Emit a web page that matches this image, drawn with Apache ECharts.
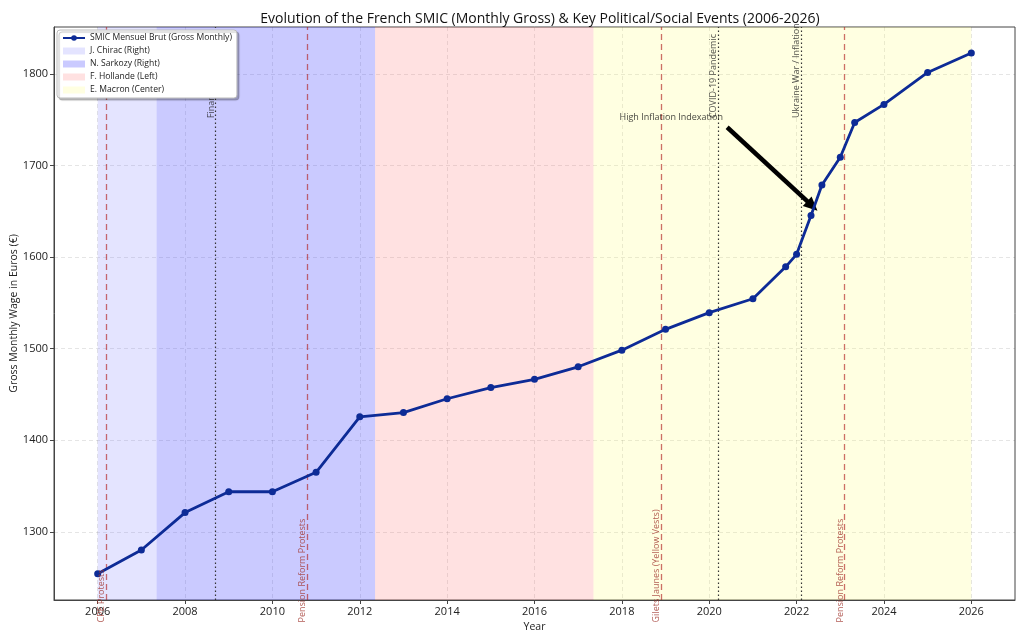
<!DOCTYPE html>
<html>
<head>
<meta charset="utf-8">
<script src="https://cdn.jsdelivr.net/npm/echarts@6/dist/echarts.min.js"></script>
<style>html,body{margin:0;padding:0;background:#fff}#c{width:1024px;height:640px}</style>
</head>
<body>
<div id="c"></div>
<script>
// SMIC data (year as decimal, monthly gross €)
const smicYears = [2006, 2007, 2008, 2009, 2010, 2011, 2012, 2013, 2014, 2015, 2016, 2017, 2018, 2019, 2020, 2021, 2021.75, 2022.0, 2022.33, 2022.58, 2023.0, 2023.33, 2024, 2025, 2026];
const smicValues = [1254.28, 1280.07, 1321.02, 1343.77, 1343.77, 1365.00, 1425.67, 1430.22, 1445.38, 1457.52, 1466.62, 1480.27, 1498.47, 1521.22, 1539.42, 1554.58, 1589.47, 1603.12, 1645.58, 1678.95, 1709.28, 1747.20, 1766.92, 1801.80, 1823.03];

// Presidencies
const presNames = ['J. Chirac (Right)', 'N. Sarkozy (Right)', 'F. Hollande (Left)', 'E. Macron (Center)'];
const presStart = [2006, 2007.35, 2012.35, 2017.35];
const presEnd = [2007.35, 2012.35, 2017.35, 2026];
const presColors = ['rgba(120,120,255,0.2)', 'rgba(60,60,255,0.27)', 'rgba(255,120,120,0.22)', 'rgba(255,255,120,0.22)'];

// Events
const eventNames = ['CPE Protests', 'Financial Crisis', 'Pension Reform Protests', 'Gilets Jaunes (Yellow Vests)', 'COVID-19 Pandemic', 'Ukraine War / Inflation', 'Pension Reform Protests'];
const eventYears = [2006.2, 2008.7, 2010.8, 2018.9, 2020.2, 2022.1, 2023.1];
const eventKinds = ['social', 'crisis', 'social', 'social', 'crisis', 'crisis', 'social'];

const xTicks = [2006, 2008, 2010, 2012, 2014, 2016, 2018, 2020, 2022, 2024, 2026];
const yTicks = [1300, 1400, 1500, 1600, 1700, 1800];

const annotationText = 'High Inflation Indexation';
const annotationPos = [2019.13, 1753];
const arrowFrom = [2020.41, 1742];
const arrowTo = [2022.36, 1656];

const FONT = 'Open Sans';
const socialColor = 'rgba(178,34,34,0.65)';
const socialText = '#a0362e';
const crisisColor = '#333';

const chart = echarts.init(document.getElementById('c'), null, {renderer: 'canvas'});

const smicData = smicYears.map((y, i) => [y, smicValues[i]]);

const bandSeries = presNames.map((n, i) => ({
  name: n,
  type: 'line',
  data: [],
  color: presColors[i],
  z: 1,
  markArea: {
    silent: true,
    itemStyle: {color: presColors[i]},
    data: [[{xAxis: presStart[i]}, {xAxis: presEnd[i]}]]
  }
}));

const eventLineSeries = {
  type: 'line',
  data: [],
  z: 3,
  silent: true,
  markLine: {
    silent: true,
    symbol: ['none', 'none'],
    label: {show: false},
    data: eventYears.map((x, i) => ({
      xAxis: x,
      lineStyle: eventKinds[i] === 'social'
        ? {color: socialColor, type: [6, 4], width: 1.3}
        : {color: crisisColor, type: [1.5, 2.5], width: 1.2}
    }))
  }
};

const eventLabelSeries = {
  type: 'scatter',
  data: eventYears.map((x, i) => ({
    value: [x, eventKinds[i] === 'social' ? 1201 : 1752],
    name: eventNames[i],
    label: {color: eventKinds[i] === 'social' ? socialText : '#222'}
  })),
  symbolSize: 0,
  clip: false,
  silent: true,
  z: 6,
  label: {
    show: true,
    formatter: p => p.name,
    rotate: 90,
    align: 'left',
    verticalAlign: 'bottom',
    position: [0, 0],
    offset: [0, 0],
    fontFamily: FONT,
    fontSize: 9
  }
};

const arrowSeries = {
  type: 'line',
  data: [],
  z: 7,
  silent: true,
  markLine: {
    silent: true,
    symbol: ['none', 'triangle'],
    symbolSize: [13, 14],
    label: {show: false},
    lineStyle: {color: '#000', type: 'solid', width: 4.5},
    data: [[{coord: arrowFrom}, {coord: arrowTo}]]
  }
};

const annotationSeries = {
  type: 'scatter',
  data: [{value: annotationPos, name: annotationText}],
  symbolSize: 0,
  clip: false,
  silent: true,
  z: 7,
  label: {
    show: true,
    formatter: p => p.name,
    position: [0, 0],
    align: 'center',
    verticalAlign: 'middle',
    fontFamily: FONT,
    fontSize: 9,
    color: '#111'
  }
};

const option = {
  animation: false,
  backgroundColor: '#fff',
  title: {
    text: 'Evolution of the French SMIC (Monthly Gross) & Key Political/Social Events (2006-2026)',
    left: 535,
    textAlign: 'center',
    top: 7,
    textStyle: {fontFamily: FONT, fontSize: 14, fontWeight: 'normal', color: '#111'}
  },
  legend: {
    left: 57,
    top: 30,
    z: 50,
    orient: 'vertical',
    backgroundColor: '#fff',
    borderColor: '#bbb',
    borderWidth: 1,
    borderRadius: 3,
    shadowColor: 'rgba(0,0,0,0.25)',
    shadowBlur: 1,
    shadowOffsetX: 2,
    shadowOffsetY: 2,
    padding: [3, 5, 3, 5],
    itemWidth: 22,
    itemHeight: 7,
    itemGap: 3,
    textStyle: {fontFamily: FONT, fontSize: 8.6, lineHeight: 10, color: '#222'},
    data: [
      {name: 'SMIC Mensuel Brut (Gross Monthly)'},
      ...presNames.map((n, i) => ({name: n, icon: 'rect', itemStyle: {color: presColors[i], borderColor: presColors[i], borderWidth: 0}}))
    ]
  },
  grid: {
    left: 54, right: 9, top: 27, bottom: 40,
    containLabel: false,
    outerBoundsMode: 'none',
    show: true, borderColor: '#444', borderWidth: 1, backgroundColor: 'transparent'
  },
  xAxis: {
    type: 'value',
    min: 2005,
    max: 2027,
    name: 'Year',
    nameLocation: 'middle',
    nameGap: 22,
    nameMoveOverlap: false,
    nameTextStyle: {fontFamily: FONT, fontSize: 10.5, color: '#222'},
    axisLine: {show: true, lineStyle: {color: '#444'}},
    axisTick: {show: true, length: 4, lineStyle: {color: '#444'}, customValues: xTicks},
    axisLabel: {fontFamily: FONT, fontSize: 11, color: '#222', margin: 6, customValues: xTicks, formatter: v => String(v)},
    splitLine: {show: true, lineStyle: {color: 'rgba(0,0,0,0.13)', type: [4, 3], width: 0.8}}
  },
  yAxis: {
    type: 'value',
    min: 1225.5,
    max: 1851.5,
    name: 'Gross Monthly Wage in Euros (€)',
    nameLocation: 'middle',
    nameGap: 34,
    nameMoveOverlap: false,
    nameTextStyle: {fontFamily: FONT, fontSize: 10.5, color: '#222'},
    axisLine: {show: true, lineStyle: {color: '#444'}},
    axisTick: {show: true, length: 4, lineStyle: {color: '#444'}, customValues: yTicks},
    axisLabel: {fontFamily: FONT, fontSize: 11, color: '#222', margin: 6, customValues: yTicks, formatter: v => String(v)},
    splitLine: {show: true, lineStyle: {color: 'rgba(0,0,0,0.13)', type: [4, 3], width: 0.8}}
  },
  series: [
    ...bandSeries,
    eventLineSeries,
    {
      name: 'SMIC Mensuel Brut (Gross Monthly)',
      type: 'line',
      data: smicData,
      color: '#0d2b96',
      z: 5,
      symbol: 'circle',
      symbolSize: 7,
      showSymbol: true,
      lineStyle: {width: 2.8, color: '#0d2b96'},
      itemStyle: {color: '#0d2b96'}
    },
    eventLabelSeries,
    arrowSeries,
    annotationSeries
  ]
};
chart.setOption(option);
</script>
</body>
</html>
